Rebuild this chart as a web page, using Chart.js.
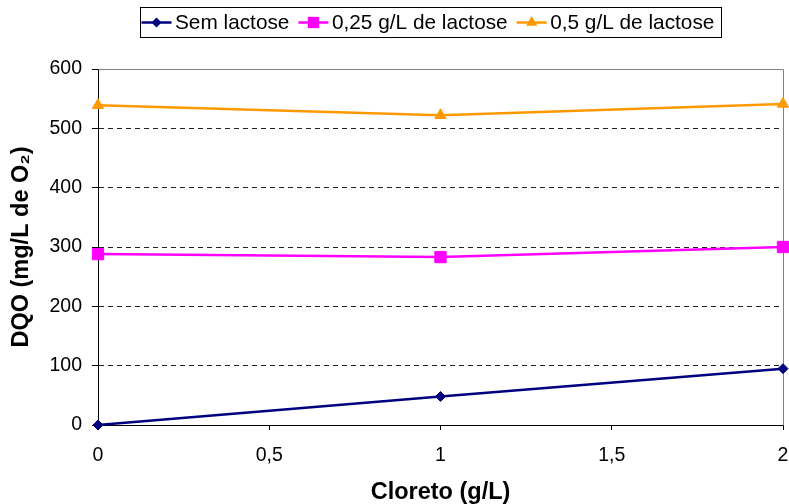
<!DOCTYPE html>
<html>
<head>
<meta charset="utf-8">
<script src="https://cdn.jsdelivr.net/npm/chart.js@4/dist/chart.umd.min.js"></script>
<style>
  html, body { margin: 0; padding: 0; background: #fff; }
  #wrap { width: 789px; height: 504px; }
</style>
</head>
<body>
<div id="wrap"><canvas id="c" width="789" height="504"></canvas></div>
<script>
// Chloride concentration (g/L) on the x axis
const cloreto = [0, 1, 2];
// COD values (mg/L de O2) for each lactose level
const semLactose = [0, 48, 95];
const lactose025 = [288, 283, 300];
const lactose05 = [539, 522, 541];
const seriesNames = ['Sem lactose', '0,25 g/L de lactose', '0,5 g/L de lactose'];
const xTicks = [0, 0.5, 1, 1.5, 2];
const yTicks = [0, 100, 200, 300, 400, 500, 600];

const FONT = '"Liberation Sans", Arial, Helvetica, sans-serif';
const colors = ['#000080', '#FF00FF', '#FF9900'];
const markers = ['rectRot', 'rect', 'triangle'];
const radii = [5, 8, 6.5];

function pts(vals) { return cloreto.map((x, i) => ({ x: x, y: vals[i] })); }

const datasets = [semLactose, lactose025, lactose05].map((vals, i) => ({
  label: seriesNames[i],
  data: pts(vals),
  borderColor: colors[i],
  backgroundColor: colors[i],
  borderWidth: 2.5,
  pointStyle: markers[i],
  pointRadius: radii[i],
  pointHoverRadius: radii[i],
  pointBorderColor: colors[i],
  pointBackgroundColor: colors[i],
  pointBorderWidth: 1,
  tension: 0,
  clip: false
}));

function drawMarker(ctx, style, x, y, r) {
  ctx.beginPath();
  if (style === 'rectRot') {
    ctx.moveTo(x, y - r); ctx.lineTo(x + r, y); ctx.lineTo(x, y + r); ctx.lineTo(x - r, y);
  } else if (style === 'rect') {
    const s = Math.SQRT1_2 * r;
    ctx.rect(x - s, y - s, 2 * s, 2 * s);
  } else {
    const w = r * Math.sqrt(3) / 2;
    ctx.moveTo(x, y - r); ctx.lineTo(x + w, y + r / 2); ctx.lineTo(x - w, y + r / 2);
  }
  ctx.closePath();
  ctx.fill();
}

// Let the plot run close to the right edge; the last x label may overhang
const rightEdge = {
  id: 'rightEdge',
  afterLayout(chart) {
    const a = chart.chartArea;
    const right = chart.width - 6;
    a.right = right;
    a.width = right - a.left;
    const xs = chart.scales.x;
    xs.right = right;
    xs.width = right - xs.left;
    xs.configure();
  }
};

// Gray frame along the top and right of the plot area
const plotFrame = {
  id: 'plotFrame',
  beforeDatasetsDraw(chart) {
    const { ctx, chartArea: a } = chart;
    ctx.save();
    ctx.strokeStyle = '#808080';
    ctx.lineWidth = 1;
    ctx.beginPath();
    ctx.moveTo(Math.round(a.left) + 0.5, Math.round(a.top) + 0.5);
    ctx.lineTo(Math.round(a.right) + 0.5, Math.round(a.top) + 0.5);
    ctx.lineTo(Math.round(a.right) + 0.5, Math.round(a.bottom) + 0.5);
    ctx.stroke();
    ctx.restore();
  }
};

// Boxed legend with line + marker samples
const boxLegend = {
  id: 'boxLegend',
  afterDraw(chart) {
    const ctx = chart.ctx;
    ctx.save();
    ctx.font = '20.8px ' + FONT;
    const sample = 30, gapText = 3.5, gapItem = 9, padL = 1, padR = 7;
    const widths = seriesNames.map(t => ctx.measureText(t).width);
    let total = padL + padR;
    widths.forEach((w, i) => { total += sample + gapText + w + (i ? gapItem : 0); });
    const left = 140.5, top = 7.5, h = 30;
    ctx.strokeStyle = '#000';
    ctx.lineWidth = 1;
    ctx.strokeRect(left, top, Math.round(total), h);
    const y = top + h / 2;
    let x = left + padL;
    ctx.textBaseline = 'middle';
    ctx.textAlign = 'left';
    seriesNames.forEach((t, i) => {
      if (i) x += gapItem;
      ctx.strokeStyle = colors[i];
      ctx.fillStyle = colors[i];
      ctx.lineWidth = 2.5;
      ctx.beginPath();
      ctx.moveTo(x, y); ctx.lineTo(x + sample, y);
      ctx.stroke();
      drawMarker(ctx, markers[i], x + sample / 2, y, radii[i]);
      x += sample + gapText;
      ctx.fillStyle = '#000';
      ctx.fillText(t, x, y + 1);
      x += widths[i];
    });
    ctx.restore();
  }
};

new Chart(document.getElementById('c'), {
  type: 'line',
  data: { datasets: datasets },
  options: {
    responsive: false,
    animation: false,
    events: [],
    layout: { padding: { top: 69, right: 6, bottom: 0, left: 0 } },
    plugins: {
      legend: { display: false },
      tooltip: { enabled: false }
    },
    scales: {
      x: {
        type: 'linear',
        min: 0,
        max: 2,
        afterBuildTicks(s) { s.ticks = xTicks.map(v => ({ value: v })); },
        afterFit(s) { s.height = 79; s.paddingLeft = 0; s.paddingRight = 0; },
        ticks: {
          color: '#000',
          font: { family: FONT, size: 19.5 },
          padding: 14,
          maxRotation: 0,
          callback: v => String(v).replace('.', ',')
        },
        grid: {
          drawOnChartArea: false,
          drawTicks: true,
          tickLength: 5,
          tickColor: '#000',
          color: '#000'
        },
        border: { display: true, color: '#000', width: 1 },
        title: {
          display: true,
          text: 'Cloreto (g/L)',
          color: '#000',
          font: { family: FONT, size: 23.5, weight: 'bold', lineHeight: 1 },
          padding: { top: 0, bottom: 0 }
        }
      },
      y: {
        min: 0,
        max: 600,
        afterBuildTicks(s) { s.ticks = yTicks.map(v => ({ value: v })); },
        afterFit(s) { s.width = 98; s.paddingTop = 0; s.paddingBottom = 0; },
        ticks: {
          color: '#000',
          font: { family: FONT, size: 19.5 },
          padding: 10
        },
        grid: {
          color: c => (c.tick && (c.tick.value === 0 || c.tick.value === 600)) ? 'rgba(0,0,0,0)' : '#222',
          lineWidth: 1,
          tickLength: 6,
          tickColor: '#000',
          tickBorderDash: [],
          drawTicks: true
        },
        border: { display: true, color: '#000', width: 1, dash: [5, 4] },
        title: {
          display: true,
          text: 'DQO (mg/L de O₂)',
          color: '#000',
          font: { family: FONT, size: 23.5, weight: 'bold', lineHeight: 1 },
          padding: { top: 10, bottom: 0 }
        }
      }
    }
  },
  plugins: [rightEdge, plotFrame, boxLegend]
});
</script>
</body>
</html>
